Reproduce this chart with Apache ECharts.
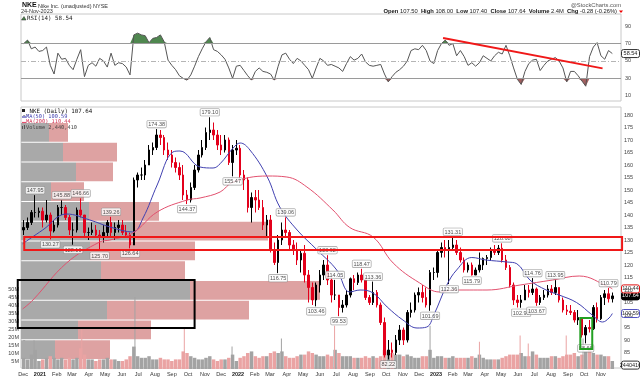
<!DOCTYPE html>
<html><head><meta charset="utf-8">
<script src="https://cdn.jsdelivr.net/npm/echarts@6/dist/echarts.min.js"></script>
<style>html,body{margin:0;padding:0;background:#fff}#c{width:640px;height:380px}</style>
</head><body><div id="c"></div>
<script>
// ---------------- DATA ----------------
const weekStart = '2020-11-30';           // Monday of first weekly bar
const firstOpen = 134;
const highs = [138,139,142,147.95,143,143,146,141,138,144,
  145.88,144,140,137,143,146.66,137,135,137,136,
  134,136,138,139.26,137,138,138,136,133,155,
  157,159,162,168,169,174.38,174,172,169,166,
  163,161,160,150,153,160,166,170,175,179.10,
  177,174,172,172,171,168,170,168,158,155,
  149,150,150,146,140,140,129,132,137,139.06,
  134,130,129,126,128,118,113,113,118,122,
  123.92,115,114.05,108,106,110,115,116,117,118.47,
  115,108,113.36,110,105,99,90,89,92,96,
  95,102,105,109,111,112,111,118,119,126,
  129,130,130,131.31,130,127,123,121,121,119,
  125,123,124,127,128,128,128.68,124,120,113,
  108,108,112,112,114.76,111,108,110,112,112,
  113.95,111,107,104,104,102,102,99,96,98,
  104,105,108,110,110.79,109];
const lows = [132,134,136,139,139,135,137,130.27,133,135,
  140,138,132,128.10,133,139,131,130,132,131,
  125.70,129,131,131,130,133,132,131,126.64,128,
  151,154,154,160,164,166,168,164,162,159,
  157,154,146,144.37,145,150,157,163,166,170,
  170,166,164,165,160,155.47,164,154,150,141,
  137,141,142,134,131,125,120,116.75,128,131,
  126,124,120,117,113,105,104,103.46,109,114,
  112,105,106,99.53,101,103,107,110,112,113,
  106,104,104,103,96,83,82.22,83,84,88,
  88,89,99,101,105,105,103,101.69,114,115,
  123,123,112.36,126,124,121,117,117,115.79,116,
  117,118,120,122,124,124,121,118,111,104,
  103,102.90,106,107,108,103.67,104,106,107,108,
  108,105,101,100,100,97,96,91,88.66,93,
  94,97,98,104,105,105];
const closes = [135,137,141,141,141.5,138,140,133.6,136,143,
  143,139,134,134,142,140,133,133,134,132,
  131,133,137,133,135,136,133,132,128,154,
  156,156,160,166,167,172,171,166,164,161,
  159,156,148,146,151,158,164,167,173,174,
  172,168,166,170,161,166,166.7,156,154,143,
  147,146,143,136,138,126,121,130,134,133,
  128,126,122,124.7,116,111,106,112,116,120,
  114,108,108,103,104,108,114.5,113,116,114,
  107,105,109,104,97,84,86,85,90,94,
  90,101,102,108,109,107,104,117,117,125,
  127,126,127,128,125,122,118,120,116,118,
  120,122.6,123,126,125,126.7,122,119,112,106,
  105,106,110,109,110.4,105,107,108,110.4,109,
  111,106,102,101.5,101,98,99,92,95,94.5,
  103,98.5,107,108.5,106.5,107.64];
// average daily volume per week, millions
const weeklyVolume = [7,6,9,12,5,
  6,7,8,7,6,7,6,7,6,7,13,
  9,6,6,5,6,6,7,6,6,5,5,6,8,
  14,8,7,7,8,6,6,7,6,6,5,6,6,11,
  10,8,7,6,6,7,8,6,5,6,6,7,9,5,
  7,8,10,11,8,7,8,8,10,11,10,11,8,7,
  7,8,9,9,11,10,9,8,8,9,8,12,10,8,
  8,8,7,7,7,8,7,8,7,8,12,11,10,9,
  9,8,9,8,7,7,8,8,12,7,8,8,7,7,
  8,7,7,7,7,8,7,9,7,6,6,6,6,7,
  8,9,9,9,10,8,8,11,9,7,7,7,8,8,
  7,8,9,9,10,8,9,11,12,10,9,9,8,8,5];
// single high-volume sessions [date, millions, up(1)/down(0)]
const volumeSpikes = [['2020-12-21',18,1],['2021-03-19',25,0],['2021-06-25',45,1],['2021-09-24',26,0],
  ['2021-12-21',14,1],['2022-03-22',19,1],['2022-06-28',27,0],['2022-09-30',26,0],['2022-12-21',27,1],
  ['2023-03-22',17,0],['2023-06-05',21,0],['2023-06-20',16,0],['2023-08-29',21,0],['2023-09-29',19,1]];
const lastVolume = 2440410;
// weekly RSI(14)
const rsi = [70,74,64,66,61,62,66,45,35,59,
  52,53,45,40,52,63,32,45,48,44,
  53,50,43,59,45,48,47,43,34,80,
  82,80,79,71,76,77,80,72,51,45,
  40,33,30,28,34,44,55,64,72,77,
  63,61,57,52,42,30,44,45,39,33,
  28,38,42,38,37,35,28,44,57,59,
  52,47,53,50,45,40,30,42,53,50,
  45,46,44,42,38,47,55,51,53,58,
  49,45,44,45,46,35,26,32,37,40,
  44,50,62,64,63,68,62,50,47,62,
  70,74,68,70,56,62,55,45,48,44,
  48,56,53,50,56,60,58,68,56,42,
  29,23,38,47,51,52,39,45,50,52,
  54,50,42,26,38,38,33,27,21,55,
  66,71,56,52,62,58.54];
const rsiTrend = [['2023-01-14',76.5],['2023-11-04',41.5]];
const ma50 = [['2020-11-30',128.5],['2021-01-06',134],['2021-02-19',140.4],['2021-04-03',138],['2021-05-10',135.2],
  ['2021-06-21',133.2],['2021-07-10',138.8],['2021-08-05',152],['2021-09-03',165.2],['2021-09-16',165.6],
  ['2021-10-23',159.2],['2021-11-16',158.8],['2021-11-29',160.5],['2021-12-23',166.8],['2022-01-05',168.8],
  ['2022-01-23',166],['2022-02-24',155.2],['2022-03-19',143.2],['2022-04-20',134],['2022-05-27',126],
  ['2022-07-02',118],['2022-07-26',109.2],['2022-08-14',110],['2022-09-07',108.8],['2022-10-03',103.2],
  ['2022-11-01',98],['2022-11-27',94.8],['2022-12-15',95.2],['2022-12-28',100],['2023-01-21',112],
  ['2023-02-08',118],['2023-03-08',123],['2023-04-03',122],['2023-05-12',121.2],['2023-05-30',120.5],
  ['2023-06-23',114],['2023-07-23',110],['2023-08-16',108],['2023-09-17',105],['2023-10-16',100],
  ['2023-11-04',97.2],['2023-11-16',98.8],['2023-11-22',100.59]];
const ma200 = [['2020-11-30',102.4],['2020-12-19',106],['2021-02-19',120.8],['2021-04-21',129.2],['2021-05-10',130],
  ['2021-06-21',132.8],['2021-08-05',141.2],['2021-09-29',146],['2021-10-23',146.8],['2021-11-29',149.2],
  ['2021-12-23',153.2],['2022-02-24',155.6],['2022-04-01',155.2],['2022-05-08',151.2],['2022-06-25',142],
  ['2022-07-26',135],['2022-09-07',131.2],['2022-10-14',120.8],['2022-12-02',112.8],['2023-01-08',109.2],
  ['2023-02-01',110],['2023-04-05',110],['2023-06-05',112],['2023-08-04',114],['2023-09-22',115.6],
  ['2023-11-16',111.2],['2023-11-22',110.44]];
// volume-by-price zones (bottom -> top) and their up/down volume (relative units)
const vbpEdges = [82.4,90.3,98.2,106.1,114.0,121.9,129.8,137.7,145.6,153.5,161.4,169.3,177.2];
const vbpUpVol = [34,57,86,169,80,69,114,68,30,55,42,28];
const vbpDownVol = [55,73,142,130,84,105,133,70,33,37,54,19];
// labelled swing highs / lows (week indices)
const highLabelWeeks = [3,10,15,23,35,49,69,80,82,89,92,113,126,134,140,154];
const lowLabelWeeks = [7,13,20,28,43,55,67,77,83,96,107,112,118,131,135,148];
// annotation boxes [fromDate, toDate, lowPrice, highPrice]
const supportBox = ['2020-12-03','2023-12-10',126.0,131.2];
const blackBox = ['2020-11-21','2021-10-13',94.8,114.0];
const greenBox = ['2023-09-24','2023-10-16',86.4,98.8];
// tick labels
const monthLabels = ['Dec','2021','Feb','Mar','Apr','May','Jun','Jul','Aug','Sep','Oct','Nov',
  'Dec','2022','Feb','Mar','Apr','May','Jun','Jul','Aug','Sep','Oct','Nov',
  'Dec','2023','Feb','Mar','Apr','May','Jun','Jul','Aug','Sep','Oct','Nov'];
const priceTicks = [85,90,95,100,105,110,115,120,125,130,135,140,145,150,155,160,165,170,175,180];
const rsiTicks = [10,30,50,70,90];
const volTicks = [5,10,15,20,25,30,35,40,45,50];

// ---------------- BUILD ----------------
const DAY0 = Date.UTC(2020, 11, 1);
function dayNum(s){ const [y,m,d]=s.split('-').map(Number); return (Date.UTC(y,m-1,d)-DAY0)/864e5; }
const w0 = dayNum(weekStart);
const weekX = i => w0 + 7*i + 2;
const opens = closes.map((c,i)=> i===0 ? firstOpen : closes[i-1]);
const monthDays = monthLabels.map((_,k)=> (Date.UTC(2020, 11+k, 1)-DAY0)/864e5);

const C = {up:'#000', down:'#e3001b', volUp:'#a3a3a3', volDown:'#eaa3a3', vbpUp:'#a9a9a9', vbpDown:'#dea2a2',
  ma50:'#4040b0', ma200:'#e2506e', rsi:'#555', axis:'#444', border:'#c8c8c8'};
const F = 'Liberation Sans';
const X_MIN=-4, X_MAX=1102, P_MIN=78.8, P_MAX=183.2;

const chart = echarts.init(document.getElementById('c'));

const candleData = closes.map((c,i)=>[weekX(i), opens[i], c, lows[i], highs[i]]);
const volData = weeklyVolume.map((v,i)=>[weekX(i), v, closes[i]>=opens[i]?1:0]);
const spikeData = volumeSpikes.map(s=>[dayNum(s[0]), s[1], s[2]]);
const rsiData = rsi.map((r,i)=>[weekX(i), r]);

function volRender(widthDays){
  return function(params, api){
    const x=api.value(0), v=api.value(1), up=api.value(2);
    const p0=api.coord([x-widthDays/2, v]), p1=api.coord([x+widthDays/2, 0]);
    return {type:'rect', shape:{x:p0[0], y:p0[1], width:Math.max(1,p1[0]-p0[0]), height:p1[1]-p0[1]},
      style:{fill: up? C.volUp : C.volDown}};
  };
}
const labelStyle = {show:true, fontSize:5.5, fontFamily:F, color:'#222', backgroundColor:'#fff',
  borderColor:'#8a8a8a', borderWidth:0.6, borderRadius:1, padding:[1,1,0,1], distance:1,
  formatter:p=>p.value[1].toFixed(2)};

const option = {
  animation:false,
  textStyle:{fontFamily:F},
  grid:[
    {left:21, top:14, width:600, height:87, show:true, borderColor:C.border, borderWidth:1},
    {left:21, top:107, width:600, height:261, show:true, borderColor:C.border, borderWidth:1},
    {left:21, top:273, width:600, height:96, show:false},
    {left:21, top:107, width:600, height:261, show:false}
  ],
  xAxis:[
    {gridIndex:0, type:'value', min:X_MIN, max:X_MAX, show:false},
    {gridIndex:1, type:'value', min:X_MIN, max:X_MAX, show:false},
    {gridIndex:2, type:'value', min:X_MIN, max:X_MAX, splitLine:{show:false}, axisLine:{show:false},
      axisTick:{show:false},
      axisLabel:{customValues:monthDays, fontSize:5.5, color:'#333', margin:2,
        formatter:v=>{const t=monthLabels[monthDays.indexOf(v)]||''; return /^\d{4}$/.test(t)?'{b|'+t+'}':t;},
        rich:{b:{fontWeight:'bold', fontSize:5.5, color:'#222'}}}},
    {gridIndex:3, type:'value', min:0, max:600, show:false}
  ],
  yAxis:[
    {gridIndex:0, type:'value', position:'right', min:4, max:104, splitLine:{show:false}, axisLine:{show:false},
      axisTick:{show:false}, axisLabel:{customValues:rsiTicks, fontSize:5.5, color:C.axis, margin:4}},
    {gridIndex:1, type:'value', position:'right', min:P_MIN, max:P_MAX, splitLine:{show:false}, axisLine:{show:false},
      axisTick:{show:true, customValues:priceTicks, length:2, lineStyle:{color:'#999'}},
      axisLabel:{customValues:priceTicks, fontSize:5.5, color:C.axis, margin:3}},
    {gridIndex:2, type:'value', position:'left', min:0, max:60, splitLine:{show:false}, axisLine:{show:false},
      axisTick:{show:false}, axisLabel:{customValues:volTicks, fontSize:5.5, color:C.axis, margin:2, formatter:v=>v+'M'}},
    {gridIndex:3, type:'value', min:P_MIN, max:P_MAX, show:false}
  ],
  series:[
    // volume by price
    {type:'custom', xAxisIndex:3, yAxisIndex:3, z:1, silent:true,
      data: vbpUpVol.map((u,i)=>[vbpEdges[i], vbpEdges[i+1], u, vbpDownVol[i]]),
      renderItem:(params, api)=>{
        const lo=api.value(0), hi=api.value(1), u=api.value(2), d=api.value(3);
        const a=api.coord([0,hi]), b=api.coord([u,lo]), c=api.coord([u+d,lo]);
        return {type:'group', children:[
          {type:'rect', shape:{x:a[0], y:a[1]+1, width:b[0]-a[0], height:b[1]-a[1]-1}, style:{fill:C.vbpUp}},
          {type:'rect', shape:{x:b[0], y:a[1]+1, width:c[0]-b[0], height:b[1]-a[1]-1}, style:{fill:C.vbpDown}}
        ]};
      }},
    // volume
    {type:'custom', xAxisIndex:2, yAxisIndex:2, z:2, silent:true, data:volData, renderItem:volRender(6.4), clip:true},
    {type:'custom', xAxisIndex:2, yAxisIndex:2, z:2, silent:true, data:spikeData, renderItem:volRender(1.8), clip:true},
    // price
    {type:'candlestick', xAxisIndex:1, yAxisIndex:1, z:3, barWidth:2,
      dimensions:['x','open','close','lowest','highest'], encode:{x:0, y:[1,2,3,4]},
      data:candleData,
      itemStyle:{color:C.up, color0:C.down, borderColor:C.up, borderColor0:C.down, borderWidth:1}},
    {type:'line', xAxisIndex:1, yAxisIndex:1, z:4, smooth:0.4, showSymbol:false, silent:true,
      data:ma50.map(p=>[dayNum(p[0]),p[1]]), lineStyle:{color:C.ma50, width:1}},
    {type:'line', xAxisIndex:1, yAxisIndex:1, z:4, smooth:0.4, showSymbol:false, silent:true,
      data:ma200.map(p=>[dayNum(p[0]),p[1]]), lineStyle:{color:C.ma200, width:1}},
    {type:'scatter', xAxisIndex:1, yAxisIndex:1, z:6, symbolSize:1, silent:true, itemStyle:{color:'rgba(0,0,0,0)'},
      data:highLabelWeeks.map(i=>[weekX(i), highs[i]]), label:Object.assign({position:'top'}, labelStyle)},
    {type:'scatter', xAxisIndex:1, yAxisIndex:1, z:6, symbolSize:1, silent:true, itemStyle:{color:'rgba(0,0,0,0)'},
      data:lowLabelWeeks.map(i=>[weekX(i), lows[i]]), label:Object.assign({position:'bottom'}, labelStyle)},
    // RSI
    {type:'line', xAxisIndex:0, yAxisIndex:0, z:2, showSymbol:false, silent:true,
      data:rsiData.map(p=>[p[0], Math.max(p[1],70)]), lineStyle:{width:0, opacity:0},
      areaStyle:{origin:70, color:'#4f874f', opacity:1}},
    {type:'line', xAxisIndex:0, yAxisIndex:0, z:2, showSymbol:false, silent:true,
      data:rsiData.map(p=>[p[0], Math.min(p[1],30)]), lineStyle:{width:0, opacity:0},
      areaStyle:{origin:30, color:'#a35f5f', opacity:1}},
    {type:'line', xAxisIndex:0, yAxisIndex:0, z:3, showSymbol:false, silent:true, data:rsiData,
      lineStyle:{color:C.rsi, width:1},
      markLine:{silent:true, symbol:'none', label:{show:false}, animation:false,
        data:[{yAxis:70, lineStyle:{color:'#9a9a9a', width:1, type:'solid'}},
              {yAxis:30, lineStyle:{color:'#9a9a9a', width:1, type:'solid'}},
              {yAxis:50, lineStyle:{color:'#b5b5b5', width:1, type:[5,2,1,2]}}]}},
    {type:'line', xAxisIndex:0, yAxisIndex:0, z:5, showSymbol:false, silent:true,
      data:rsiTrend.map(p=>[dayNum(p[0]),p[1]]), lineStyle:{color:'#f01818', width:2}}
  ]
};
chart.setOption(option);

// ------- annotations placed through the chart's own scales -------
function boxRect(b, color){
  const p0 = chart.convertToPixel({gridIndex:1}, [dayNum(b[0]), b[3]]);
  const p1 = chart.convertToPixel({gridIndex:1}, [dayNum(b[1]), b[2]]);
  return {type:'rect', z:50, silent:true, shape:{x:p0[0], y:p0[1], width:p1[0]-p0[0], height:p1[1]-p0[1]},
    style:{fill:'none', stroke:color, lineWidth:2}};
}
function valueBox(y, text, stroke, fill, color){
  return {type:'group', z:60, children:[
    {type:'rect', shape:{x:621.5, y:y-4, width:18, height:8, r:2}, style:{fill:fill, stroke:stroke, lineWidth:1}},
    {type:'text', style:{x:630.5, y:y, text:text, fill:color, font:'5.5px '+F, align:'center', verticalAlign:'middle'}}
  ]};
}
const yP = v => chart.convertToPixel({yAxisIndex:1}, v);
const lastClose = closes[closes.length-1];
const lastMa50 = ma50[ma50.length-1][1], lastMa200 = ma200[ma200.length-1][1];
const lastRsi = rsi[rsi.length-1];
const graphics = [
  boxRect(supportBox, '#f01818'), boxRect(blackBox, '#000'), boxRect(greenBox, '#22a022'),
  valueBox(yP(lastClose), lastClose.toFixed(2), '#000', '#000', '#fff'),
  valueBox(yP(lastMa200), lastMa200.toFixed(2), '#e01010', '#fff', '#333'),
  valueBox(yP(lastMa50), lastMa50.toFixed(2), '#5050c0', '#fff', '#333'),
  valueBox(chart.convertToPixel({yAxisIndex:2}, lastVolume/1e6), String(lastVolume), '#333', '#fff', '#222'),
  valueBox(chart.convertToPixel({yAxisIndex:0}, lastRsi), lastRsi.toFixed(2), '#333', '#fff', '#222'),
  // header
  {type:'text', z:70, style:{x:22, y:2, text:'NKE', font:'bold 7px '+F, fill:'#111'}},
  {type:'text', z:70, style:{x:38, y:3, text:'Nike Inc. (unadjusted) NYSE', font:'5.5px '+F, fill:'#333'}},
  {type:'text', z:70, style:{x:21, y:8.5, text:'24-Nov-2023', font:'5.5px '+F, fill:'#333'}},
  {type:'text', z:70, style:{x:621, y:2, text:'@StockCharts.com', font:'5.8px '+F, fill:'#555', align:'right'}},
  {type:'text', z:70, style:{x:617, y:8.5, align:'right', font:'5.8px '+F, fill:'#222',
    text:'{b|Open} 107.50  {b|High} 108.00  {b|Low} 107.40  {b|Close} 107.64  {b|Volume} 2.4M  {b|Chg} -0.28 (-0.26%)',
    rich:{b:{font:'bold 5.8px '+F, fill:'#111'}}}},
  {type:'polygon', z:70, shape:{points:[[619,10.5],[623,10.5],[621,13]]}, style:{fill:'#e00'}},
  // RSI legend
  {type:'polygon', z:70, shape:{points:[[21.5,20],[24,16.5],[26,20]]}, style:{fill:'#4f874f', stroke:'#222', lineWidth:0.5}},
  {type:'text', z:70, style:{x:27, y:15.5, text:'RSI(14) 58.54', font:'5.8px DejaVu Sans Mono', fill:'#222'}},
  // price legend
  {type:'rect', z:70, shape:{x:22, y:109, width:3, height:3}, style:{fill:'#222'}},
  {type:'text', z:70, style:{x:26, y:108, text:'_NKE (Daily) 107.64', font:'5.8px DejaVu Sans Mono', fill:'#111'}},
  {type:'line', z:70, shape:{x1:22, y1:117, x2:26, y2:117}, style:{stroke:C.ma50, lineWidth:1.2}},
  {type:'text', z:70, style:{x:26, y:114, text:'MA(50) 100.59', font:'5.3px DejaVu Sans Mono', fill:C.ma50}},
  {type:'line', z:70, shape:{x1:22, y1:122.5, x2:26, y2:122.5}, style:{stroke:C.ma200, lineWidth:1.2}},
  {type:'text', z:70, style:{x:26, y:119.5, text:'MA(200) 110.44', font:'5.3px DejaVu Sans Mono', fill:'#d03050'}},
  {type:'rect', z:70, shape:{x:22, y:126, width:1, height:3}, style:{fill:'#555'}},
  {type:'rect', z:70, shape:{x:24, y:125, width:1, height:4}, style:{fill:'#555'}},
  {type:'text', z:70, style:{x:26, y:124.8, text:'Volume 2,440,410', font:'5.3px DejaVu Sans Mono', fill:'#444'}}
];
chart.setOption({graphic:graphics});
</script></body></html>
